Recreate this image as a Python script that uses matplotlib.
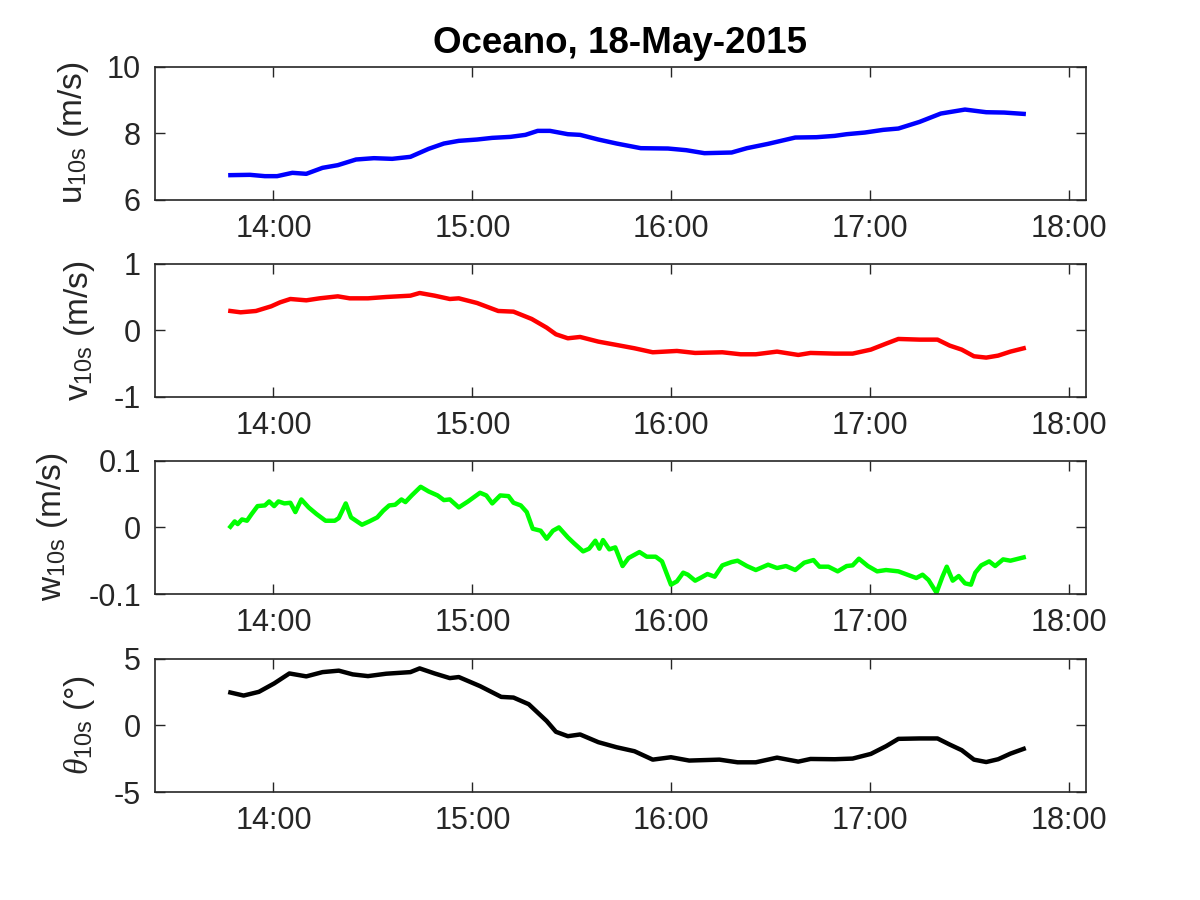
import numpy as np
import matplotlib
matplotlib.use("Agg")
import matplotlib.pyplot as plt
import matplotlib.dates as mdates

plt.rcParams['font.family'] = ['Liberation Sans', 'DejaVu Sans']
plt.rcParams['mathtext.fontset'] = 'custom'
plt.rcParams['mathtext.rm'] = 'Liberation Sans'
plt.rcParams['mathtext.it'] = 'Liberation Serif:italic'

title = "Oceano, 18-May-2015"
base_time = "2015-05-18T14:00"

# minutes relative to 14:00
u_min = [-13.0, -7.1, -2.6, 1.1, 5.7, 9.9, 14.8, 19.4, 24.9, 30.3, 35.8, 41.3, 46.8, 51.4,
         55.9, 61.4, 66.0, 71.5, 76.0, 79.7, 83.4, 88.8, 92.5, 98.0, 103.5, 110.8, 119.0,
         124.5, 130.0, 138.2, 142.8, 149.2, 157.4, 163.8, 169.3, 172.9, 178.4, 183.9, 188.5,
         194.9, 201.3, 208.6, 215.0, 220.4, 226.3]
u_val = [6.74, 6.75, 6.71, 6.71, 6.81, 6.78, 6.96, 7.04, 7.21, 7.25, 7.23, 7.29, 7.53, 7.69,
         7.77, 7.81, 7.86, 7.89, 7.95, 8.07, 8.07, 7.97, 7.95, 7.81, 7.69, 7.55, 7.54,
         7.49, 7.40, 7.42, 7.55, 7.68, 7.87, 7.88, 7.92, 7.97, 8.02, 8.10, 8.14,
         8.34, 8.59, 8.71, 8.63, 8.62, 8.58]

v_min = [-13.0, -9.9, -5.3, -0.7, 2.0, 5.1, 9.9, 13.9, 19.4, 23.0, 28.5, 34.0, 41.3, 44.1,
         48.6, 53.2, 55.9, 61.4, 67.8, 72.4, 77.9, 82.4, 85.2, 88.8, 92.5, 98.0, 103.5,
         108.9, 114.4, 121.7, 127.2, 135.4, 140.9, 145.5, 151.9, 158.3, 162.0, 169.3, 174.7,
         180.2, 184.8, 188.5, 194.9, 200.3, 204.0, 207.6, 211.3, 215.0, 218.6, 222.3, 226.3]
v_val = [0.29, 0.27, 0.29, 0.36, 0.42, 0.47, 0.45, 0.48, 0.51, 0.48, 0.48, 0.50, 0.52, 0.56,
         0.52, 0.47, 0.48, 0.41, 0.29, 0.28, 0.17, 0.04, -0.06, -0.12, -0.10, -0.17, -0.22,
         -0.27, -0.33, -0.31, -0.34, -0.33, -0.36, -0.36, -0.32, -0.37, -0.34, -0.35, -0.35,
         -0.29, -0.20, -0.13, -0.14, -0.14, -0.23, -0.29, -0.39, -0.41, -0.38, -0.32, -0.27]

w_min = [-13.0, -11.7, -10.8, -9.5, -8.0, -6.6, -4.8, -2.6, -1.3, 0.2, 1.5, 3.3, 5.1, 6.6,
         8.4, 10.6, 13.0, 15.7, 18.5, 19.7, 21.8, 23.4, 26.7, 28.9, 31.3, 33.1, 34.9, 36.7,
         38.6, 39.8, 41.7, 44.4, 46.8, 49.5, 51.4, 53.2, 55.9, 58.7, 62.3, 64.2, 66.0, 68.4,
         70.9, 72.4, 74.6, 76.4, 78.2, 80.6, 82.4, 84.3, 86.1, 88.8, 90.7, 93.4, 95.2, 97.1,
         98.3, 99.4, 101.3, 103.1, 105.3, 107.1, 110.4, 112.6, 115.3, 117.2, 119.9, 121.7,
         123.6, 125.0, 127.2, 129.1, 130.9, 133.1, 135.4, 138.2, 140.0, 142.8, 145.5, 149.2,
         151.9, 154.6, 157.4, 160.1, 162.9, 164.7, 167.4, 170.2, 172.9, 174.7, 176.6, 179.3,
         182.1, 184.8, 188.5, 191.2, 193.9, 195.8, 197.6, 200.0, 201.8, 203.1, 204.9, 206.7,
         208.6, 210.4, 211.7, 213.5, 215.9, 217.7, 220.1, 222.3, 226.3]
w_val = [0.001, 0.009, 0.005, 0.012, 0.010, 0.020, 0.032, 0.033, 0.039, 0.032, 0.039, 0.036,
         0.037, 0.023, 0.042, 0.030, 0.020, 0.010, 0.010, 0.014, 0.036, 0.015, 0.004, 0.009,
         0.015, 0.025, 0.033, 0.034, 0.042, 0.038, 0.048, 0.061, 0.054, 0.048, 0.041, 0.042,
         0.030, 0.039, 0.052, 0.048, 0.036, 0.048, 0.047, 0.037, 0.033, 0.023, -0.002,
         -0.005, -0.017, -0.005, 0.000, -0.015, -0.024, -0.036, -0.032, -0.020, -0.032,
         -0.019, -0.033, -0.030, -0.058, -0.046, -0.037, -0.044, -0.044, -0.051, -0.086,
         -0.081, -0.068, -0.071, -0.080, -0.075, -0.070, -0.074, -0.057, -0.052, -0.050,
         -0.058, -0.064, -0.056, -0.061, -0.058, -0.064, -0.053, -0.049, -0.059, -0.059,
         -0.066, -0.058, -0.057, -0.047, -0.058, -0.066, -0.064, -0.066, -0.071, -0.076,
         -0.071, -0.079, -0.098, -0.074, -0.059, -0.080, -0.073, -0.084, -0.086, -0.068,
         -0.057, -0.051, -0.058, -0.048, -0.050, -0.045]

th_min = [-13.0, -9.0, -4.4, 0.2, 4.8, 9.9, 14.8, 19.7, 23.9, 28.5, 34.0, 41.3, 44.1, 48.6,
          53.2, 55.9, 62.3, 68.7, 72.4, 77.0, 82.4, 85.2, 88.8, 92.5, 98.0, 103.5, 108.9,
          114.4, 119.9, 125.4, 134.5, 140.0, 145.5, 151.9, 158.3, 162.0, 169.3, 174.7,
          180.2, 184.8, 188.5, 194.9, 200.3, 204.0, 207.6, 211.3, 215.0, 218.6, 222.3, 226.3]
th_val = [2.47, 2.24, 2.52, 3.15, 3.90, 3.68, 4.00, 4.11, 3.83, 3.70, 3.88, 4.00, 4.28, 3.90,
          3.55, 3.63, 2.95, 2.14, 2.09, 1.59, 0.33, -0.48, -0.81, -0.68, -1.26, -1.64, -1.94,
          -2.57, -2.39, -2.64, -2.57, -2.77, -2.77, -2.42, -2.72, -2.52, -2.54, -2.49,
          -2.14, -1.56, -1.01, -0.98, -0.98, -1.44, -1.86, -2.57, -2.75, -2.54, -2.12, -1.76]

xlim_min = [-35.8, 245.1]
tick_min = [0, 60, 120, 180, 240]

panels = [
    (u_min, u_val, 'b', [6, 10], [6, 8, 10], ['6', '8', '10'], r'u$_{\mathregular{10s}}$ (m/s)', -0.087),
    (v_min, v_val, 'r', [-1, 1], [-1, 0, 1], ['-1', '0', '1'], r'v$_{\mathregular{10s}}$ (m/s)', -0.081),
    (w_min, w_val, '#00ff00', [-0.1, 0.1], [-0.1, 0, 0.1], ['-0.1', '0', '0.1'], r'w$_{\mathregular{10s}}$ (m/s)', -0.110),
    (th_min, th_val, 'k', [-5, 5], [-5, 0, 5], ['-5', '0', '5'], r'$\theta_{\mathregular{10s}}$ (°)', -0.081),
]

t0 = np.datetime64(base_time)

def to_dt(mins):
    return t0 + (np.array(mins) * 60).astype('timedelta64[s]')

fig = plt.figure(figsize=(12, 9), dpi=100)
lefts = 0.129
width = 0.776
bottoms = [0.778, 0.559, 0.340, 0.120]
height = 0.148
axcol = '#262626'

for i, (tm, val, col, yl, yt, ytl, lab, labx) in enumerate(panels):
    ax = fig.add_axes([lefts, bottoms[i], width, height])
    ax.plot(to_dt(tm), val, color=col, lw=3.2)
    ax.set_xlim(to_dt(xlim_min))
    ax.set_xticks(to_dt(tick_min))
    ax.xaxis.set_major_formatter(mdates.DateFormatter('%H:%M'))
    ax.set_ylim(yl)
    ax.set_yticks(yt)
    ax.set_yticklabels(ytl)
    ax.tick_params(direction='in', length=7, width=1, top=True, right=True,
                   labelsize=22, colors=axcol, pad=10)
    for s in ax.spines.values():
        s.set_color(axcol)
        s.set_linewidth(1.2)
    ax.set_ylabel(lab, fontsize=24, color=axcol, va='center', ha='center')
    ax.yaxis.set_label_coords(labx, 0.5)
    if i == 0:
        ax.set_title(title, fontsize=26.5, fontweight='bold', pad=10)

fig.savefig('out.png', dpi=100, facecolor='white')
